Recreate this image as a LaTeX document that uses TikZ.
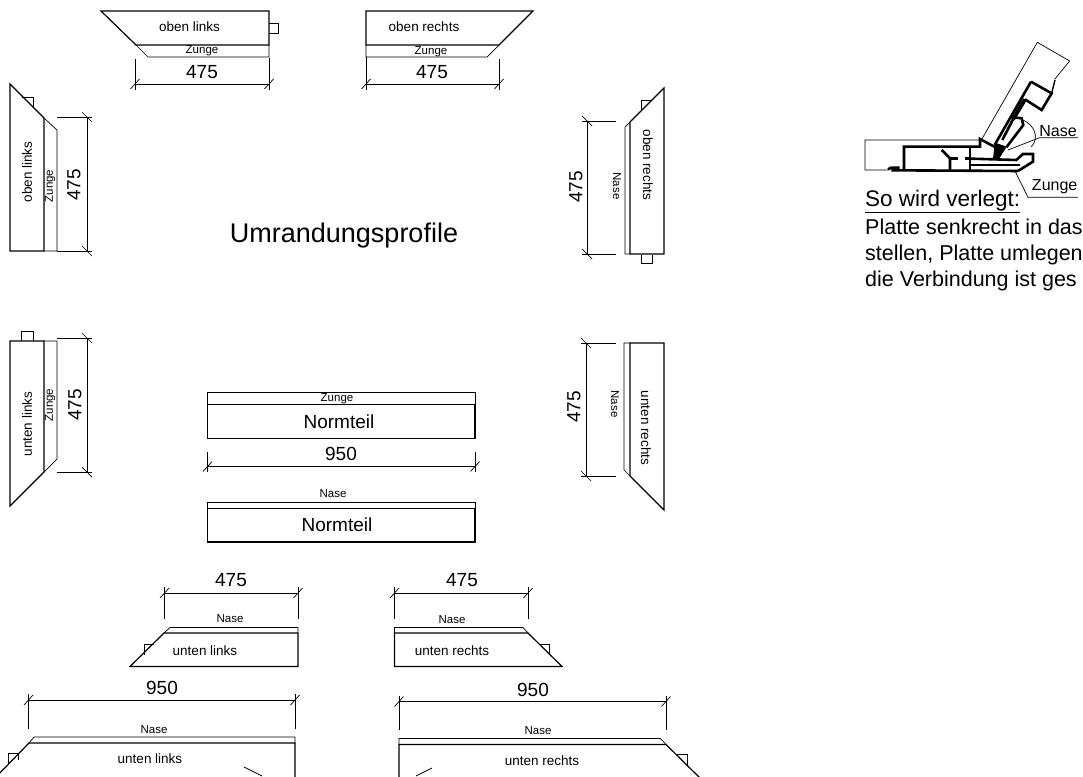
\documentclass[tikz,border=0pt]{standalone}
\usepackage{fontspec}
\setmainfont{Liberation Sans}

\tikzset{
  kontur/.style={line width=1.2pt, line join=miter},
  duenn/.style={line width=0.7pt},
  profil/.style={line width=2.6pt, line join=miter},
  lbl/.style={inner sep=0pt, font=\fontsize{13.5}{15}\selectfont},
  klein/.style={inner sep=0pt, font=\fontsize{11.5}{13}\selectfont},
  masz/.style={inner sep=0pt, font=\fontsize{19}{21}\selectfont},
  hinweis/.style={inner sep=0pt, anchor=base west, font=\fontsize{21.5}{24}\selectfont},
}

\begin{document}
\begin{tikzpicture}[x=1pt, y=-1pt]
  \useasboundingbox (0,0) rectangle (1083,776);
  \clip (0,0) rectangle (1083,776);

  % oben links / oben rechts
  \draw[duenn] (269,23) -- (278,23) -- (278,33) -- (269,33);
  \draw[kontur] (101,11) -- (269,11) -- (269,45) -- (136,45) -- cycle;
  \draw[duenn] (136,45) -- (148,57) -- (269,57) -- (269,45);
  \draw[kontur] (366,11) -- (533,11) -- (499,45) -- (366,45) -- cycle;
  \draw[duenn] (366,45) -- (366,57) -- (487,57) -- (499,45);
  \node[lbl] (ol) at (189.5,27) {oben links};
  \node[lbl] (or) at (424,27) {oben rechts};
  \node[klein] (olz) at (202,51) {Zunge};
  \node[klein] (orz) at (431,52) {Zunge};

  % seitlich links
  \draw[duenn] (22,97) -- (33,97) -- (33,107);
  \draw[kontur] (10,84) -- (10,251) -- (44,251) -- (44,118) -- cycle;
  \draw[duenn] (44,118) -- (57,130) -- (57,251) -- (44,251);
  \node[lbl, rotate=90] (sol) at (27,172) {oben links};
  \node[klein, rotate=90] (solz) at (50,186) {Zunge};
  \draw[duenn] (21,341) -- (21,331) -- (33,331) -- (33,341);
  \draw[kontur] (10,341) -- (44,341) -- (44,472) -- (10,506) -- cycle;
  \draw[duenn] (44,341) -- (57,341) -- (57,459) -- (44,472);
  \node[lbl, rotate=90] (sul) at (27,424) {unten links};
  \node[klein, rotate=90] (sulz) at (50,405) {Zunge};

  % seitlich rechts
  \draw[duenn] (641,110) -- (641,100) -- (651,100);
  \draw[duenn] (641,255) -- (641,263) -- (652,263) -- (652,255);
  \draw[kontur] (664,88) -- (664,254) -- (630,254) -- (630,122) -- cycle;
  \draw[duenn] (630,122) -- (625,127) -- (625,254) -- (630,254);
  \node[lbl, rotate=-90] (sor) at (648,165) {oben rechts};
  \node[klein, rotate=-90] (sorn) at (617,186) {Nase};
  \draw[kontur] (630,343) -- (664,343) -- (664,510) -- (630,476) -- cycle;
  \draw[duenn] (630,343) -- (624,343) -- (624,470) -- (630,476);
  \node[lbl, rotate=-90] (sur) at (646,428) {unten rechts};
  \node[klein, rotate=-90] (surn) at (615,404) {Nase};

  % Normteile
  \draw[duenn] (207.5,404.5) -- (207.5,392) -- (475,392) -- (475,404.5);
  \draw[kontur] (207.5,404.5) rectangle (475,438.5);
  \node[klein] (nz) at (337,399) {Zunge};
  \node[masz] (n1) at (339,422) {Normteil};
  \draw[duenn] (207.5,508.5) -- (207.5,502.5) -- (475,502.5) -- (475,508.5);
  \draw[kontur] (207.5,508.5) rectangle (475,542);
  \node[klein] (nn) at (333,494) {Nase};
  \node[masz] (n2) at (337,525) {Normteil};

  % unten links / unten rechts
  \draw[duenn] (144,655) -- (144,644) -- (154,644);
  \draw[kontur] (130,666.5) -- (298,666.5) -- (298,633) -- (164,633) -- cycle;
  \draw[duenn] (164,633) -- (170,627.5) -- (298,627.5) -- (298,633);
  \node[lbl] (ul) at (205,651) {unten links};
  \node[klein] (uln) at (230,619) {Nase};
  \draw[duenn] (539,644) -- (549,644) -- (549,654);
  \draw[kontur] (394.5,633) -- (528,633) -- (562,666.5) -- (394.5,666.5) -- cycle;
  \draw[duenn] (394.5,633) -- (394.5,627.5) -- (523,627.5) -- (528,633);
  \node[lbl] (ur) at (452,651) {unten rechts};
  \node[klein] (urn) at (452,620) {Nase};

  \draw[duenn] (8,765) -- (8,753) -- (18,753) -- (18,760);
  \draw[kontur] (-5,778) -- (29,743) -- (295,743) -- (295,778);
  \draw[duenn] (29,743) -- (34,737) -- (295,737) -- (295,743);
  \node[lbl] (gl) at (150,759) {unten links};
  \node[klein] (gln) at (154,730) {Nase};
  \draw[duenn] (244,767) -- (262,776);
  \draw[duenn] (677,754) -- (687,754) -- (687,765);
  \draw[kontur] (399,778) -- (399,744.5) -- (666,744.5) -- (700,778);
  \draw[duenn] (399,744.5) -- (399,738.5) -- (660.5,738.5) -- (666,744.5);
  \node[lbl] (gr) at (542,761) {unten rechts};
  \node[klein] (grn) at (538,731) {Nase};
  \draw[duenn] (416,776) -- (432,768);

  % waagerechte Masse
  \foreach \xa/\xb/\y/\ya/\yb/\yc in {135/269/84/59/58/90, 366/499/84/57/59/90,
      207.5/475/466.5/452/452/472, 164.5/298/593/619/619/587, 394.5/528/593/619/619/587,
      28.5/295/700/729/729/694, 399/666/701.5/730/730/696} {
    \draw[duenn] (\xa,\y) -- (\xb,\y);
    \draw[duenn] (\xa,\ya) -- (\xa,\yc);
    \draw[duenn] (\xb,\yb) -- (\xb,\yc);
    \draw[duenn] (\xa-4.5,\y+5) -- (\xa+4.5,\y-5);
    \draw[duenn] (\xb-4.5,\y+5) -- (\xb+4.5,\y-5);
  }
  \node[masz] (m1) at (202,72) {475};
  \node[masz] (m2) at (432,72) {475};
  \node[masz] (m3) at (341,454) {950};
  \node[masz] (m4) at (231,580) {475};
  \node[masz] (m5) at (462,580.5) {475};
  \node[masz] (m6) at (162,688) {950};
  \node[masz] (m7) at (533,690) {950};

  % senkrechte Masse
  \foreach \x/\ya/\yb/\xa/\xb in {87/117/251/57/92, 87/338/472/57/92,
      587/121/254/616/582, 586/343/476/616/581} {
    \draw[duenn] (\x,\ya) -- (\x,\yb);
    \draw[duenn] (\xa,\ya) -- (\xb,\ya);
    \draw[duenn] (\xa,\yb) -- (\xb,\yb);
    \draw[duenn] (\x-5,\ya-5) -- (\x+5,\ya+5);
    \draw[duenn] (\x-5,\yb-5) -- (\x+5,\yb+5);
  }
  \node[masz, rotate=90] (m8) at (74,185) {475};
  \node[masz, rotate=90] (m9) at (75,405) {475};
  \node[masz, rotate=90] (m10) at (576,187) {475};
  \node[masz, rotate=90] (m11) at (574,407) {475};

  \node[inner sep=0pt, font=\fontsize{27}{30}\selectfont] (titel) at (344,236) {Umrandungsprofile};

  % Verlegeskizze
  \begin{scope}[shift={(843,30)}, x=0.3333pt, y=-0.3333pt]
    \draw[duenn] (135,420) -- (66,420) -- (66,330) -- (415,330) -- (583,37) -- (680,93) -- (635,148);
    \draw[profil] (135,418) -- (145,413) -- (170,413);
    \draw[profil] (145,421) -- (525,423);
    \draw[profil] (183,418) -- (183,350) -- (411,350) -- (411,327) -- (476,362);
    \draw[profil] (296,360) -- (321,385) -- (321,420);
    \draw[profil] (321,385) -- (345,385);
    \draw[profil] (365,385) -- (381,385);
    \draw[profil] (381,355) -- (381,420);
    \draw[profil] (381,386) -- (520,390) -- (540,372) -- (570,372) -- (570,395) -- (525,423);
    \draw[line width=1.4pt] (385,405) -- (530,405);
    \fill (456,338) -- (491,350) -- (466,390) -- (450,385) -- cycle;
    \draw[profil] (564,155) -- (455,345);
    \draw[profil] (564,155) -- (626,190) -- (596,240) -- (546,208);
    \draw[line width=4pt] (546,208) -- (510,268);
    \draw[profil] (510,262) -- (536,265) -- (541,285) -- (490,352);
    \draw[profil] (510,268) -- (478,330);
    \draw[line width=1.4pt] (626,190) -- (636,150);
    \draw[duenn] (495,360) -- (590,323) -- (705,323);
    \draw[duenn] (540,270) .. controls (575,285) and (590,325) .. (565,350);
    \draw[duenn] (517,425) -- (555,502) -- (705,502);
    \node[inner sep=0pt, font=\fontsize{16}{18}\selectfont] (nase) at (645,303) {Nase};
    \node[inner sep=0pt, font=\fontsize{16}{18}\selectfont] (zunge) at (635,470) {Zunge};
  \end{scope}

  \node[hinweis, font=\fontsize{22.5}{25}\selectfont] (verlegt) at (865,206) {So wird verlegt:};
  \draw[duenn] (verlegt.west |- 0,212) -- (verlegt.east |- 0,212);
  \node[hinweis] (z1) at (865,234) {Platte senkrecht in das};
  \node[hinweis] (z2) at (865,260) {stellen, Platte umlegen};
  \node[hinweis] (z3) at (865,286) {die Verbindung ist ges};
\end{tikzpicture}
\end{document}
